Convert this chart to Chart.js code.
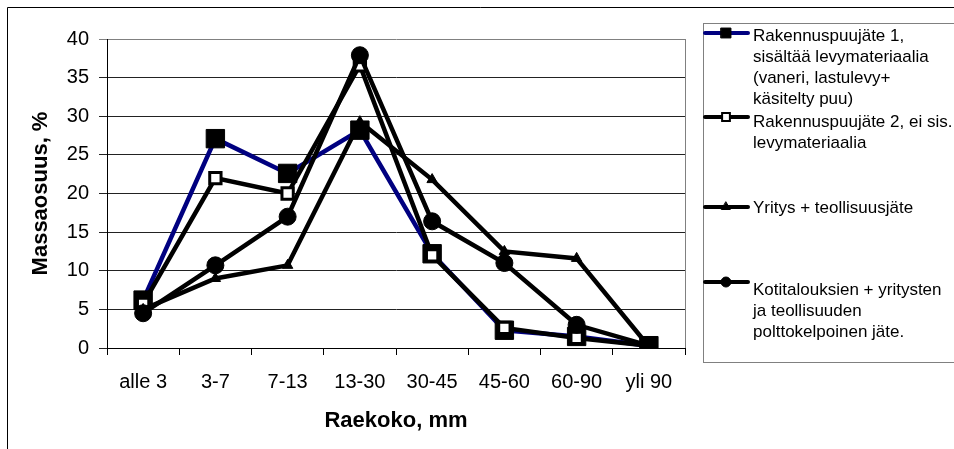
<!DOCTYPE html>
<html>
<head>
<meta charset="utf-8">
<script src="https://cdn.jsdelivr.net/npm/chart.js@4.4.0/dist/chart.umd.min.js"></script>
<style>
  html, body { margin: 0; padding: 0; background: #fff; }
  #wrap { width: 954px; height: 449px; }
</style>
</head>
<body>
<div id="wrap"><canvas id="myChart" width="954" height="449"></canvas></div>
<script>
// data
const categories = ['alle 3', '3-7', '7-13', '13-30', '30-45', '45-60', '60-90', 'yli 90']
const yTicks = [0, 5, 10, 15, 20, 25, 30, 35, 40]

const rakennus1 = [6.2, 27.1, 22.6, 28.2, 12.2, 2.3, 1.5, 0.3]
const rakennus2 = [5.7, 22.0, 20.0, 36.6, 12.0, 2.6, 1.3, 0.3]
const yritys = [5.0, 9.0, 10.7, 29.3, 21.8, 12.5, 11.6, 0.2]
const kotitaloudet = [4.5, 10.7, 17.0, 37.9, 16.4, 11.0, 3.0, 0.3]

const seriesNames = [
    ['Rakennuspuujäte 1,', 'sisältää levymateriaalia', '(vaneri, lastulevy+', 'käsitelty puu)'],
    ['Rakennuspuujäte 2, ei sis.', 'levymateriaalia'],
    ['Yritys + teollisuusjäte'],
    ['Kotitalouksien + yritysten', 'ja teollisuuden', 'polttokelpoinen jäte.']
]
const yTitle = 'Massaosuus, %'
const xTitle = 'Raekoko, mm'

const FONT = 'Liberation Sans, Arial, sans-serif'

// frame around the whole thing + gray right edge of plot
const framePlugin = {
    id: 'frame',
    beforeDraw(chart) {
        const ctx = chart.ctx
        ctx.save()
        ctx.fillStyle = '#fff'
        ctx.fillRect(0, 0, chart.width, chart.height)
        ctx.strokeStyle = '#000'
        ctx.lineWidth = 1
        ctx.beginPath()
        ctx.moveTo(7.5, chart.height)
        ctx.lineTo(7.5, 7.5)
        ctx.lineTo(chart.width, 7.5)
        ctx.stroke()
        ctx.restore()
    },
    beforeDatasetsDraw(chart) {
        const ctx = chart.ctx
        const a = chart.chartArea
        ctx.save()
        ctx.strokeStyle = '#808080'
        ctx.lineWidth = 1
        ctx.beginPath()
        ctx.moveTo(Math.round(a.right) + 0.5, a.top)
        ctx.lineTo(Math.round(a.right) + 0.5, a.bottom)
        ctx.stroke()
        ctx.restore()
    }
}

// legend with wrapped labels, drawn at the right
const legendPlugin = {
    id: 'boxLegend',
    afterDraw(chart) {
        const ctx = chart.ctx
        ctx.save()
        ctx.strokeStyle = '#808080'
        ctx.lineWidth = 1
        ctx.strokeRect(703.5, 23.5, 270, 339)

        const markerY = [33, 117, 207, 282]
        const textY = [36, 122, 208, 290]
        const markerR = [7, 5.5, 5, 5]
        chart.data.datasets.forEach((ds, i) => {
            const y = markerY[i]
            ctx.strokeStyle = ds.borderColor
            ctx.lineWidth = 4
            ctx.lineCap = 'round'
            ctx.beginPath()
            ctx.moveTo(705, y)
            ctx.lineTo(748, y)
            ctx.stroke()
            ctx.fillStyle = ds.pointBackgroundColor
            ctx.strokeStyle = ds.pointBorderColor
            ctx.lineWidth = i === 1 ? 2 : 1
            Chart.helpers.drawPoint(ctx, {pointStyle: ds.pointStyle, radius: markerR[i], borderWidth: ctx.lineWidth}, 726, y)

            ctx.fillStyle = '#000'
            ctx.font = '17px ' + FONT
            ctx.textBaseline = 'middle'
            ctx.textAlign = 'left'
            seriesNames[i].forEach((line, j) => {
                ctx.fillText(line, 753, textY[i] + j * 21)
            })
        })
        ctx.restore()
    }
}

const ctx = document.getElementById('myChart')

new Chart(ctx, {
    type: 'line',
    data: {
        labels: categories,
        datasets: [
            {
                label: seriesNames[0].join(' '),
                data: rakennus1,
                borderColor: '#000080',
                borderWidth: 4.5,
                pointStyle: 'rect',
                pointRadius: 13,
                pointBackgroundColor: '#000',
                pointBorderColor: '#000',
                pointBorderWidth: 1,
                order: 4
            },
            {
                label: seriesNames[1].join(' '),
                data: rakennus2,
                borderColor: '#000',
                borderWidth: 4.5,
                pointStyle: 'rect',
                // last marker sits hidden under the black square in the original
                pointRadius: [8, 8, 8, 8, 8, 8, 8, 0],
                pointBackgroundColor: '#fff',
                pointBorderColor: '#000',
                pointBorderWidth: 3,
                order: 3
            },
            {
                label: seriesNames[2].join(' '),
                data: yritys,
                borderColor: '#000',
                borderWidth: 4.5,
                pointStyle: 'triangle',
                pointRadius: 6,
                pointBackgroundColor: '#000',
                pointBorderColor: '#000',
                pointBorderWidth: 1,
                order: 2
            },
            {
                label: seriesNames[3].join(' '),
                data: kotitaloudet,
                borderColor: '#000',
                borderWidth: 4.5,
                pointStyle: 'circle',
                pointRadius: 8.5,
                pointBackgroundColor: '#000',
                pointBorderColor: '#000',
                pointBorderWidth: 1,
                order: 1
            }
        ]
    },
    options: {
        responsive: false,
        animation: false,
        events: [],
        layout: {
            padding: { left: 0, top: 39, right: 269, bottom: 0 }
        },
        elements: {
            line: { tension: 0, borderJoinStyle: 'miter' }
        },
        scales: {
            x: {
                offset: true,
                grid: {
                    offset: true,
                    drawOnChartArea: false,
                    drawTicks: true,
                    tickLength: 7,
                    color: '#000'
                },
                border: { color: '#000', width: 1 },
                ticks: {
                    color: '#000',
                    padding: 15,
                    maxRotation: 0,
                    font: { family: FONT, size: 20 }
                },
                title: {
                    display: true,
                    text: xTitle,
                    color: '#000',
                    font: { family: FONT, size: 22, weight: 'bold' },
                    padding: { top: 0, bottom: 15 }
                },
                afterFit(scale) { scale.height = 101 }
            },
            y: {
                min: 0,
                max: 40,
                afterBuildTicks(scale) { scale.ticks = yTicks.map(v => ({ value: v })) },
                grid: {
                    color: c => (c.tick && c.tick.value === 40 ? '#808080' : '#222'),
                    tickLength: 8,
                    drawTicks: true
                },
                border: { color: '#000', width: 1 },
                ticks: {
                    color: '#000',
                    padding: 10,
                    font: { family: FONT, size: 20 }
                },
                title: {
                    display: true,
                    text: yTitle,
                    color: '#000',
                    font: { family: FONT, size: 22, weight: 'bold' },
                    padding: { top: 28, bottom: 0 }
                },
                afterFit(scale) { scale.width = 107 }
            }
        },
        plugins: {
            legend: { display: false },
            tooltip: { enabled: false }
        }
    },
    plugins: [framePlugin, legendPlugin]
})
</script>
</body>
</html>
